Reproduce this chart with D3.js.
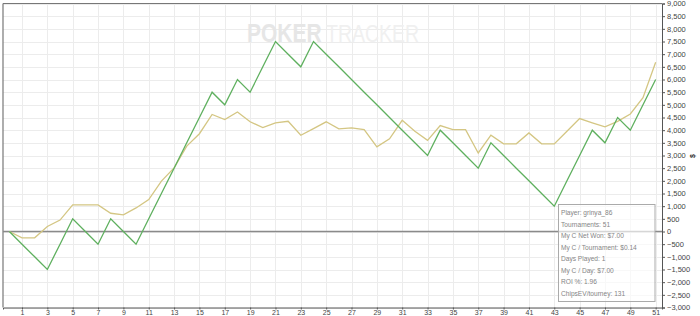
<!DOCTYPE html>
<html>
<head>
<meta charset="utf-8">
<script src="https://cdn.jsdelivr.net/npm/d3@7"></script>
<style>
  body { margin: 0; background: #fff; }
  svg { display: block; font-family: "Liberation Sans", Arial, sans-serif; }
</style>
</head>
<body>
<div id="chart"></div>
<script>
// tournament index 0..51
const tourneys = d3.range(0, 52)

// cumulative chips won (green)
const chipsWon = [0, -500, -1000, -1500, -500, 500, 0, -500, 500, 0,
    -500, 500, 1500, 2500, 3500, 4500, 5500, 5000, 6000, 5500,
    6500, 7500, 7000, 6500, 7500, 7000, 6500, 6000, 5500, 5000,
    4500, 4000, 3500, 3000, 4000, 3500, 3000, 2500, 3500, 3000,
    2500, 2000, 1500, 1000, 2000, 3000, 4000, 3500, 4500, 4000,
    5000, 6000]

// cumulative chips EV (yellow)
const chipsEV = [0, -250, -250, 200, 450, 1050, 1050, 1050, 720, 660,
    930, 1260, 1990, 2510, 3370, 3860, 4620, 4420, 4720, 4330,
    4100, 4290, 4350, 3800, 4060, 4330, 4050, 4090, 4020, 3340,
    3660, 4390, 3960, 3600, 4180, 4020, 4020, 3100, 3800, 3460,
    3460, 3890, 3460, 3460, 3960, 4460, 4290, 4130, 4350, 4640,
    5280, 6680]

const yTicks = d3.range(-3000, 9001, 500)
const xTicks = d3.range(1, 52, 2)

const infoLines = [
    'Player: grinya_86',
    'Tournaments: 51',
    'My C Net Won: $7.00',
    'My C / Tournament: $0.14',
    'Days Played: 1',
    'My C / Day: $7.00',
    'ROI %: 1.96',
    'ChipsEV/tourney: 131'
]

const W = 700, H = 316
const plotL = 3, plotR = 662, plotT = 3.5, plotB = 307.5

const svg = d3.select('#chart')
  .append('svg')
    .attr('width', W)
    .attr('height', H)

const x = d3.scaleLinear()
    .domain([-0.5, 51.5])
    .range([plotL, plotR])

const y = d3.scaleLinear()
    .domain([-3000, 9000])
    .range([plotB, plotT])

// grid
svg.append('g')
  .selectAll('line')
  .data(yTicks)
  .join('line')
    .attr('x1', plotL).attr('x2', plotR)
    .attr('y1', d => Math.round(y(d)) + 0.5)
    .attr('y2', d => Math.round(y(d)) + 0.5)
    .attr('stroke', '#ececec')

svg.append('g')
  .selectAll('line')
  .data(xTicks)
  .join('line')
    .attr('x1', d => Math.round(x(d)) + 0.5)
    .attr('x2', d => Math.round(x(d)) + 0.5)
    .attr('y1', plotT).attr('y2', plotB)
    .attr('stroke', '#ececec')

// watermark (stretched vertically a little)
svg.append('text')
    .attr('transform', 'translate(247,42) scale(1,1.2)')
    .attr('font-size', 21)
    .attr('font-weight', 'bold')
    .attr('fill', '#e6e6e6')
    .text('POKER')
svg.append('text')
    .attr('transform', 'translate(326,42) scale(1,1.25)')
    .attr('font-size', 19.5)
    .attr('fill', '#f0f0f0')
    .text('TRACKER')

// frame
svg.append('line')
    .attr('x1', plotL).attr('x2', plotR)
    .attr('y1', plotT).attr('y2', plotT)
    .attr('stroke', '#777').attr('stroke-width', 1.2)
svg.append('line')
    .attr('x1', plotL).attr('x2', plotL)
    .attr('y1', plotT).attr('y2', plotB)
    .attr('stroke', '#777').attr('stroke-width', 1.2)

// zero line
svg.append('line')
    .attr('x1', plotL).attr('x2', plotR)
    .attr('y1', y(0)).attr('y2', y(0))
    .attr('stroke', '#8a8a8a').attr('stroke-width', 1.5)

const line = d3.line()
    .x((d, i) => x(tourneys[i]))
    .y(d => y(d))

svg.append('path')
    .datum(chipsEV)
    .attr('fill', 'none')
    .attr('stroke', '#d4c683')
    .attr('stroke-width', 1.3)
    .attr('d', line)

svg.append('path')
    .datum(chipsWon)
    .attr('fill', 'none')
    .attr('stroke', '#5fb05f')
    .attr('stroke-width', 1.3)
    .attr('d', line)

// axes
const yAxis = d3.axisRight(y)
    .tickValues(yTicks)
    .tickSize(3)
    .tickPadding(2)
    .tickFormat(d3.format(','))

svg.append('g')
    .attr('transform', `translate(${plotR},0)`)
    .call(yAxis)
    .call(g => g.select('.domain').attr('stroke', '#555'))
    .call(g => g.selectAll('.tick line').attr('stroke', '#555'))
    .call(g => g.selectAll('text').attr('fill', '#444').attr('font-size', 7.5).attr('font-family', null))

const xAxis = d3.axisBottom(x)
    .tickValues(xTicks)
    .tickSize(2)
    .tickPadding(0.5)

svg.append('g')
    .attr('transform', `translate(0,${plotB})`)
    .call(xAxis)
    .call(g => g.select('.domain').attr('stroke', '#555'))
    .call(g => g.selectAll('.tick line').attr('stroke', '#555'))
    .call(g => g.selectAll('text').attr('fill', '#444').attr('font-size', 7).attr('font-family', null))

// axis title glyph
svg.append('text')
    .attr('transform', 'translate(693,156) rotate(-90)')
    .attr('text-anchor', 'middle')
    .attr('dy', '0.35em')
    .attr('font-size', 7)
    .attr('font-weight', 'bold')
    .attr('fill', '#333')
    .text('$')

// info box
const box = svg.append('g').attr('transform', 'translate(558.5,204.5)')
box.append('rect')
    .attr('width', 96.5)
    .attr('height', 97)
    .attr('fill', 'rgba(255,255,255,0.65)')
    .attr('stroke', '#aaa')
box.selectAll('text')
  .data(infoLines)
  .join('text')
    .attr('x', 2.5)
    .attr('y', (d, i) => 10.5 + i * 11.5)
    .attr('font-size', 6.6)
    .attr('fill', '#858585')
    .text(d => d)
</script>
</body>
</html>
